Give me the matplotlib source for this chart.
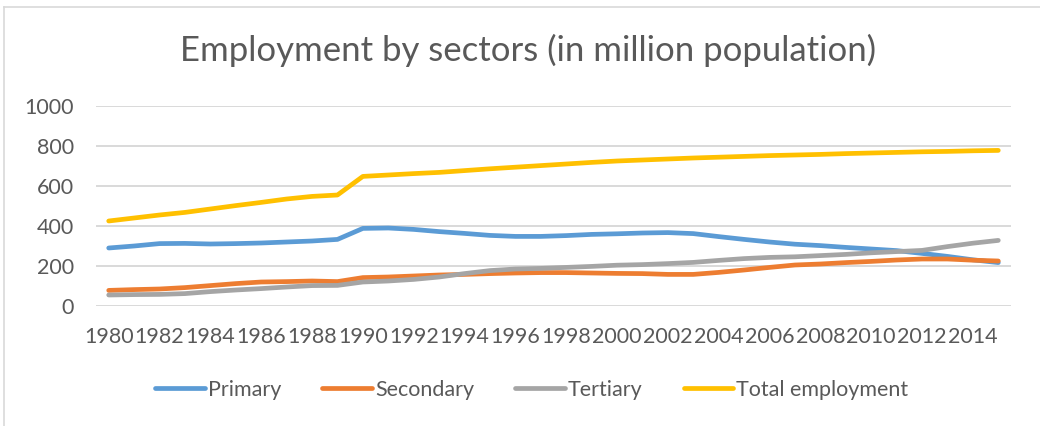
import matplotlib
matplotlib.use("Agg")
import matplotlib.pyplot as plt
from matplotlib.lines import Line2D

years = list(range(1980, 2016))

primary = [290, 300, 312, 313, 310, 312, 315, 320, 325, 333,
           388, 390, 383, 372, 363, 353, 348, 348, 352, 358,
           361, 365, 367, 362, 347, 333, 320, 309, 302, 293,
           285, 277, 263, 248, 231, 217]
secondary = [78, 82, 85, 92, 102, 112, 120, 122, 125, 122,
             142, 145, 150, 155, 158, 162, 165, 167, 167, 165,
             163, 162, 158, 158, 168, 180, 193, 205, 210, 217,
             223, 230, 235, 235, 229, 225]
tertiary = [55, 57, 58, 62, 72, 80, 87, 95, 102, 103,
            120, 125, 133, 145, 162, 177, 185, 188, 193, 198,
            204, 207, 212, 218, 228, 237, 243, 246, 252, 258,
            266, 272, 278, 297, 314, 328]
total = [425, 440, 455, 468, 485, 502, 518, 535, 548, 555,
         648, 655, 662, 668, 677, 686, 694, 702, 710, 718,
         725, 730, 735, 740, 744, 748, 752, 755, 758, 762,
         765, 768, 771, 773, 776, 778]

series = [("Primary", primary, "#5B9BD5"),
          ("Secondary", secondary, "#ED7D31"),
          ("Tertiary", tertiary, "#A5A5A5"),
          ("Total employment", total, "#FFC000")]

title = "Employment by sectors (in million population)"
yticks = [0, 200, 400, 600, 800, 1000]

plt.rcParams['font.family'] = ['Lato', 'DejaVu Sans']
text_color = "#595959"
grid_color = "#D9D9D9"

fig = plt.figure(figsize=(10.4, 4.26), dpi=100)
ax = fig.add_axes([96/1040, 1 - 306/426, 915/1040, 200/426])

x = list(range(len(years)))
for name, vals, color in series:
    ax.plot(x, vals, color=color, lw=3.4, label=name,
            solid_capstyle="round", solid_joinstyle="round")

ax.set_xlim(-0.5, len(years) - 0.5)
ax.set_ylim(0, 1000)
ax.set_yticks(yticks)
ax.set_yticklabels([str(v) for v in yticks])
ax.set_xticks(x[::2])
ax.set_xticklabels([str(y) for y in years[::2]])
ax.tick_params(axis="both", length=0, labelsize=15.5, colors=text_color)
ax.tick_params(axis="y", pad=16)
ax.tick_params(axis="x", pad=15)
ax.grid(axis="y", color=grid_color, lw=1.4)
ax.set_axisbelow(True)
for s in ax.spines.values():
    s.set_visible(False)

fig.text(528/1040, 1 - 50/426, title, ha="center", va="center",
         fontsize=25, color=text_color)

leg = fig.legend(loc="center", bbox_to_anchor=(532/1040, 1 - 390/426),
                 ncol=4, frameon=False, fontsize=15.5,
                 handlelength=2.3, handletextpad=0.15, columnspacing=1.9)
for t in leg.get_texts():
    t.set_color(text_color)
for h in leg.get_lines():
    h.set_linewidth(3.4)

# chart frame edges
fig.add_artist(Line2D([3.5/1040, 3.5/1040], [0, 1 - 7/426],
                      transform=fig.transFigure, color=grid_color, lw=1.2))
fig.add_artist(Line2D([3.5/1040, 1], [1 - 7/426, 1 - 7/426],
                      transform=fig.transFigure, color=grid_color, lw=1.2))

fig.savefig("out.png", dpi=100, facecolor="white")
